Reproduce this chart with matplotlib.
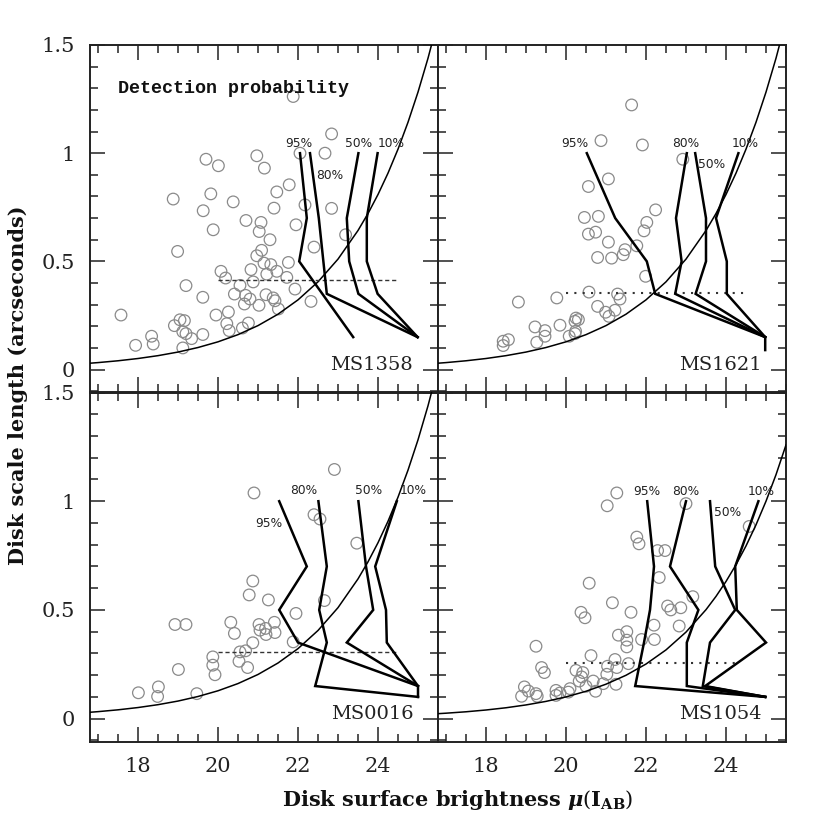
import matplotlib
matplotlib.use("Agg")
import matplotlib.pyplot as plt
from matplotlib.ticker import MultipleLocator, FixedLocator, FixedFormatter

plt.rcParams["mathtext.fontset"] = "dejavuserif"

# ---------------- data ----------------
clusters = ["MS1358", "MS1621", "MS0016", "MS1054"]
prob_levels = ["95%", "80%", "50%", "10%"]

# selection-limit curves
limit_x = [16.8, 17.0, 17.5, 18.0, 18.5, 19.0, 19.5, 20.0, 20.5, 21.0, 21.5, 22.0,
           22.5, 23.0, 23.5, 23.75, 24.0, 24.25, 24.5, 24.75, 25.0, 25.25, 25.5]
limit_y_a = [0.0294, 0.0322, 0.0406, 0.0511, 0.0643, 0.0809, 0.1019, 0.1282, 0.1614,
             0.2032, 0.2559, 0.3221, 0.4055, 0.5105, 0.6427, 0.7211, 0.8091, 0.9078,
             1.0186, 1.1429, 1.2823, 1.4388, 1.6144]
limit_y_b = [0.0229, 0.0251, 0.0316, 0.0398, 0.0501, 0.0631, 0.0794, 0.1000, 0.1259,
             0.1585, 0.1995, 0.2512, 0.3162, 0.3981, 0.5012, 0.5623, 0.6310, 0.7079,
             0.7943, 0.8913, 1.0000, 1.1220, 1.2589]

# completeness thresholds (dotted lines)
thr_y = [0.415, 0.355, 0.307, 0.256]
thr_x0 = [20.0, 20.0, 20.0, 20.0]
thr_x1 = [24.5, 24.5, 24.45, 24.35]

# detection probability contours: (x list, y list)
ms1358_contours = {
    "95%": ([22.05, 22.22, 22.03, 23.38], [1.0, 0.70, 0.50, 0.15]),
    "80%": ([22.30, 22.52, 22.72, 24.99], [1.0, 0.70, 0.35, 0.15]),
    "50%": ([23.51, 23.22, 23.28, 23.51, 24.99], [1.0, 0.70, 0.50, 0.35, 0.15]),
    "10%": ([23.99, 23.72, 23.72, 23.99, 24.99], [1.0, 0.70, 0.50, 0.35, 0.15]),
}
ms1621_contours = {
    "95%": ([20.52, 21.23, 22.02, 22.23, 24.98], [1.0, 0.70, 0.50, 0.35, 0.15]),
    "80%": ([23.02, 22.75, 22.89, 22.73, 24.98], [1.0, 0.70, 0.50, 0.35, 0.15]),
    "50%": ([23.23, 23.50, 23.50, 23.24, 24.98], [1.0, 0.70, 0.50, 0.35, 0.15]),
    "10%": ([24.31, 23.75, 24.02, 24.02, 24.98, 24.98], [1.0, 0.70, 0.50, 0.35, 0.15, 0.09]),
}
ms0016_contours = {
    "95%": ([21.53, 22.22, 21.53, 22.00, 25.00], [1.0, 0.70, 0.50, 0.35, 0.15]),
    "80%": ([22.51, 22.72, 22.53, 22.72, 22.43, 25.00], [1.0, 0.70, 0.50, 0.35, 0.15, 0.10]),
    "50%": ([23.51, 23.70, 23.88, 23.22, 25.00], [1.0, 0.70, 0.50, 0.35, 0.15]),
    "10%": ([24.47, 23.93, 24.20, 24.22, 25.00, 25.00], [1.0, 0.70, 0.50, 0.35, 0.15, 0.10]),
}
ms1054_contours = {
    "95%": ([22.03, 22.20, 22.10, 21.95, 21.73, 24.98], [1.0, 0.70, 0.50, 0.35, 0.15, 0.10]),
    "80%": ([23.00, 22.60, 23.31, 23.02, 23.02, 24.98], [1.0, 0.70, 0.50, 0.35, 0.15, 0.10]),
    "50%": ([23.60, 23.73, 24.23, 23.60, 23.42, 24.98], [1.0, 0.70, 0.50, 0.35, 0.15, 0.10]),
    "10%": ([24.81, 24.23, 24.27, 25.00, 23.48, 24.98], [1.0, 0.70, 0.50, 0.35, 0.15, 0.10]),
}

# galaxies (disk surface brightness, disk scale length)
ms1358_x = [21.88, 22.84, 22.05, 22.675, 19.70, 20.01, 20.97, 21.16, 21.78, 21.47,
            19.82, 18.88, 20.38, 21.40, 22.84, 22.175, 19.63, 20.70, 21.075, 21.03,
            19.88, 21.95, 21.30, 23.19, 22.40, 18.99, 21.09, 20.97, 21.15, 21.32,
            21.76, 20.075, 20.825, 21.22, 21.47, 20.19, 20.88, 21.72, 20.55, 19.20,
            20.41, 20.69, 21.20, 21.38, 21.925, 22.325, 19.62, 20.80, 20.66, 21.025,
            21.51, 21.425, 17.575, 19.95, 20.26, 20.22, 20.28, 20.76, 20.61, 19.05,
            19.16, 18.91, 19.12, 19.20, 19.34, 19.62, 18.34, 18.38, 17.94, 19.12]
ms1358_y = [1.262, 1.089, 1.000, 1.000, 0.972, 0.942, 0.988, 0.931, 0.854, 0.821,
            0.812, 0.788, 0.775, 0.746, 0.745, 0.761, 0.734, 0.689, 0.680, 0.638,
            0.646, 0.669, 0.600, 0.623, 0.566, 0.546, 0.551, 0.526, 0.492, 0.485,
            0.495, 0.454, 0.462, 0.441, 0.454, 0.423, 0.405, 0.426, 0.389, 0.388,
            0.349, 0.343, 0.346, 0.331, 0.372, 0.315, 0.334, 0.326, 0.303, 0.297,
            0.280, 0.318, 0.252, 0.252, 0.266, 0.212, 0.180, 0.215, 0.192, 0.230,
            0.226, 0.203, 0.175, 0.166, 0.143, 0.162, 0.154, 0.118, 0.112, 0.100]

ms1621_x = [21.64, 20.875, 21.91, 22.92, 21.06, 20.56, 22.24, 20.46, 20.81, 22.02,
            21.95, 20.56, 20.74, 21.06, 21.77, 21.475, 21.43, 20.79, 21.14, 21.99,
            20.575, 21.29, 21.35, 19.77, 18.81, 20.79, 20.99, 21.075, 21.225, 20.25,
            20.31, 20.225, 19.85, 19.225, 19.475, 19.475, 19.27, 20.24, 20.225, 20.08,
            18.56, 18.43, 18.43]
ms1621_y = [1.223, 1.058, 1.038, 0.972, 0.881, 0.846, 0.738, 0.703, 0.708, 0.680,
            0.641, 0.626, 0.635, 0.589, 0.572, 0.554, 0.531, 0.518, 0.515, 0.431,
            0.358, 0.349, 0.326, 0.331, 0.312, 0.292, 0.265, 0.246, 0.274, 0.238,
            0.231, 0.223, 0.205, 0.197, 0.180, 0.154, 0.126, 0.177, 0.166, 0.154,
            0.138, 0.131, 0.111]

ms0016_x = [22.91, 20.90, 22.40, 22.55, 23.47, 20.87, 20.78, 21.26, 22.66, 21.95,
            18.925, 19.20, 20.32, 21.025, 21.41, 20.41, 21.05, 21.19, 21.20, 21.425,
            21.88, 20.87, 20.55, 20.69, 19.87, 20.525, 19.87, 20.74, 19.01, 19.925,
            18.51, 18.49, 18.01, 19.47]
ms0016_y = [1.146, 1.038, 0.938, 0.918, 0.807, 0.633, 0.569, 0.546, 0.543, 0.484,
            0.433, 0.433, 0.443, 0.433, 0.443, 0.392, 0.407, 0.415, 0.387, 0.396,
            0.353, 0.349, 0.307, 0.312, 0.284, 0.264, 0.246, 0.235, 0.226, 0.202,
            0.146, 0.102, 0.119, 0.115]

ms1054_x = [21.27, 21.03, 23.00, 24.58, 21.77, 21.825, 22.29, 22.475, 20.58, 22.33,
            23.17, 21.16, 20.375, 20.475, 21.625, 22.54, 22.62, 22.87, 22.20, 22.83,
            21.52, 21.31, 21.52, 21.52, 21.89, 22.21, 19.25, 20.625, 21.225, 21.56,
            19.39, 19.46, 20.25, 20.42, 20.39, 21.04, 21.27, 21.02, 20.33, 20.68,
            20.93, 21.25, 20.50, 20.74, 18.96, 19.06, 18.89, 19.25, 19.28, 19.75,
            19.85, 19.75, 20.06, 20.10]
ms1054_y = [1.038, 0.979, 0.989, 0.884, 0.835, 0.804, 0.773, 0.773, 0.623, 0.649,
            0.561, 0.533, 0.489, 0.464, 0.489, 0.518, 0.500, 0.510, 0.430, 0.426,
            0.400, 0.384, 0.361, 0.330, 0.364, 0.364, 0.333, 0.290, 0.272, 0.253,
            0.235, 0.212, 0.222, 0.212, 0.192, 0.241, 0.235, 0.204, 0.173, 0.173,
            0.161, 0.158, 0.149, 0.126, 0.146, 0.127, 0.103, 0.115, 0.103, 0.130,
            0.118, 0.107, 0.122, 0.138]

x_ticks = [18, 20, 22, 24]
x_ticklabels = ["18", "20", "22", "24"]
y_ticks = [0, 0.5, 1, 1.5]
y_ticklabels = ["0", "0.5", "1", "1.5"]

# ---------------- layout / style ----------------
panels = [
    dict(name="MS1358", gx=ms1358_x, gy=ms1358_y, cont=ms1358_contours, ly=limit_y_a,
         thr=0, ls=(0, (3, 2)), lw=1.0,
         lab={"95%": (22.01, 1.046), "80%": (22.80, 0.895), "50%": (23.51, 1.046), "10%": (24.34, 1.046)}),
    dict(name="MS1621", gx=ms1621_x, gy=ms1621_y, cont=ms1621_contours, ly=limit_y_a,
         thr=1, ls=(0, (1, 3)), lw=1.5,
         lab={"95%": (20.23, 1.046), "80%": (23.00, 1.046), "50%": (23.64, 0.946), "10%": (24.48, 1.046)}),
    dict(name="MS0016", gx=ms0016_x, gy=ms0016_y, cont=ms0016_contours, ly=limit_y_a,
         thr=2, ls=(0, (3, 2)), lw=1.0,
         lab={"95%": (21.26, 0.896), "80%": (22.15, 1.049), "50%": (23.76, 1.049), "10%": (24.88, 1.049)}),
    dict(name="MS1054", gx=ms1054_x, gy=ms1054_y, cont=ms1054_contours, ly=limit_y_b,
         thr=3, ls=(0, (1, 3)), lw=1.5,
         lab={"95%": (22.02, 1.046), "80%": (23.00, 1.046), "50%": (24.04, 0.946), "10%": (24.89, 1.046)}),
]

fig = plt.figure(figsize=(8.3, 8.3), dpi=100)
L, M, R = 90 / 830, 438 / 830, 786 / 830
T, MID, B = 1 - 45 / 830, 1 - 392.5 / 830, 1 - 741.7 / 830
W = M - L
positions = [
    [L, MID, W, T - MID],
    [M, MID, W, T - MID],
    [L, B, W, MID - B],
    [M, B, W, MID - B],
]

serif = "DejaVu Serif"

for i, (p, pos) in enumerate(zip(panels, positions)):
    ax = fig.add_axes(pos)
    ax.set_xlim(16.8, 25.5)
    ax.set_ylim(-0.106, 1.5)

    ax.scatter(p["gx"], p["gy"], s=70, facecolors="none", edgecolors="#8a8a8a",
               linewidths=0.9, zorder=2)
    ax.plot(limit_x, p["ly"], color="black", lw=1.1, zorder=3)
    k = p["thr"]
    ax.plot([thr_x0[k], thr_x1[k]], [thr_y[k], thr_y[k]], color="#333333",
            lw=p["lw"], linestyle=p["ls"], zorder=3)
    for lev in prob_levels:
        cx, cy = p["cont"][lev]
        ax.plot(cx, cy, color="black", lw=1.8, zorder=4, solid_joinstyle="miter")
        tx, ty = p["lab"][lev]
        ax.text(tx, ty, lev, ha="center", va="center", fontsize=8.8,
                family="DejaVu Sans", color="#222222", zorder=5)

    ax.text(0.81, 0.078, p["name"], transform=ax.transAxes, ha="center", va="center",
            fontsize=14, family=serif, color="#222222", zorder=6,
            bbox=dict(facecolor="white", edgecolor="none", pad=1.5))

    if i == 0:
        ax.text(0.08, 0.876, "Detection probability", transform=ax.transAxes,
                ha="left", va="center", fontsize=13.2, family="Liberation Mono",
                fontweight="bold", color="#111111")

    ax.xaxis.set_major_locator(FixedLocator(x_ticks))
    ax.xaxis.set_minor_locator(MultipleLocator(0.5))
    ax.yaxis.set_major_locator(FixedLocator(y_ticks))
    ax.yaxis.set_minor_locator(MultipleLocator(0.1))
    ax.xaxis.set_major_formatter(FixedFormatter(x_ticklabels))
    ax.yaxis.set_major_formatter(FixedFormatter(y_ticklabels))
    ax.tick_params(which="both", direction="in", top=True, right=True, width=1.1,
                   color="#222222")
    ax.tick_params(which="major", length=11)
    ax.tick_params(which="minor", length=5.5)
    ax.tick_params(axis="y", which="major", pad=11, labelsize=15)
    ax.tick_params(axis="x", which="major", pad=11, labelsize=15)
    for lbl in ax.get_xticklabels() + ax.get_yticklabels():
        lbl.set_family(serif)
        lbl.set_color("#222222")
    if i in (0, 1):
        ax.tick_params(labelbottom=False)
    if i in (1, 3):
        ax.tick_params(labelleft=False)
    for sp in ax.spines.values():
        sp.set_linewidth(1.4)
        sp.set_color("#222222")

fig.text(458 / 830, 1 - 800 / 830,
         r"Disk surface brightness $\boldsymbol{\mu}(\mathbf{I}_{\mathbf{AB}})$",
         ha="center", va="center", fontsize=15, family=serif, fontweight="bold",
         color="#111111")
fig.text(18 / 830, 1 - 385 / 830, "Disk scale length (arcseconds)", rotation=90,
         ha="center", va="center", fontsize=15, family=serif, fontweight="bold",
         color="#111111")

fig.savefig("out.png", dpi=100, facecolor="white")
